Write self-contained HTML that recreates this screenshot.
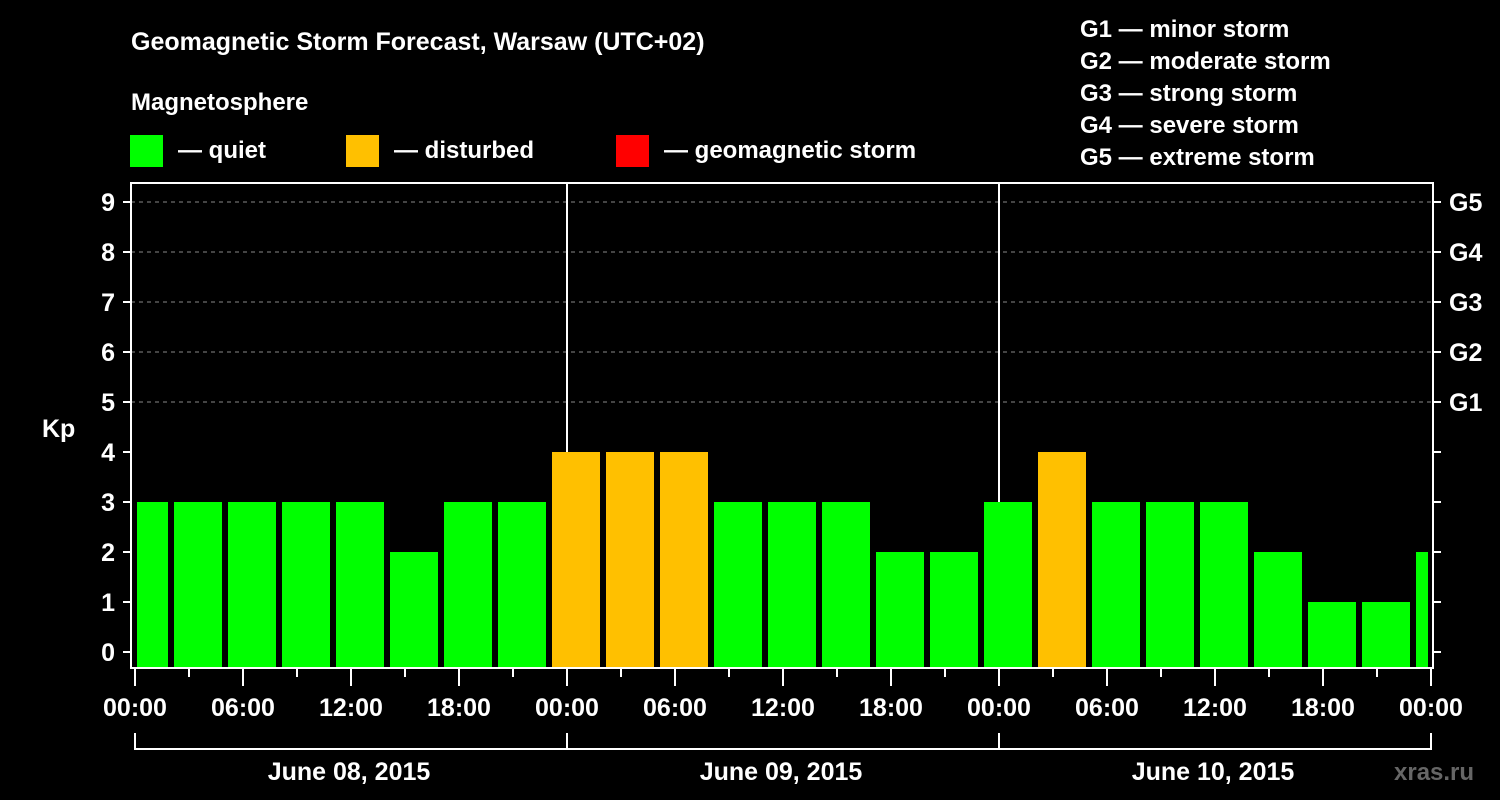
<!DOCTYPE html>
<html><head><meta charset="utf-8"><style>
html,body{margin:0;padding:0;background:#000;}
svg{display:block;font-family:"Liberation Sans",Arial,sans-serif;font-weight:bold;}
</style></head><body>
<svg id="chart" width="1500" height="800" viewBox="0 0 1500 800">
<rect width="1500" height="800" fill="#000"/>
<text x="131" y="50" fill="#fff" font-size="25">Geomagnetic Storm Forecast, Warsaw (UTC+02)</text>
<text x="131" y="110" fill="#fff" font-size="24">Magnetosphere</text>
<g><rect x="130" y="135" width="33" height="32" fill="#00ff00"/><text x="178" y="158" fill="#fff" font-size="24">— quiet</text></g>
<g><rect x="346" y="135" width="33" height="32" fill="#ffc000"/><text x="394" y="158" fill="#fff" font-size="24">— disturbed</text></g>
<g><rect x="616" y="135" width="33" height="32" fill="#ff0000"/><text x="664" y="158" fill="#fff" font-size="24">— geomagnetic storm</text></g>
<g fill="#fff" font-size="24">
<text x="1080" y="37">G1 — minor storm</text>
<text x="1080" y="69">G2 — moderate storm</text>
<text x="1080" y="101">G3 — strong storm</text>
<text x="1080" y="133">G4 — severe storm</text>
<text x="1080" y="165">G5 — extreme storm</text>
</g>
<text x="42" y="437" fill="#fff" font-size="25">Kp</text>
<text x="1394" y="780" fill="#666" font-size="24">xras.ru</text>
<g id="plot"></g>
</svg>
<script>
const kpValues=[3,3,3,3,3,2,3,3,4,4,4,3,3,3,2,2,3,4,3,3,3,2,1,1,2];
const yTicks=[0,1,2,3,4,5,6,7,8,9];
const gLabels=["G1","G2","G3","G4","G5"];
const xTickLabels=["00:00","06:00","12:00","18:00","00:00","06:00","12:00","18:00","00:00","06:00","12:00","18:00","00:00"];
const dayLabels=["June 08, 2015","June 09, 2015","June 10, 2015"];
const startHour=-1; // first bin start relative to 00:00 local

const NS="http://www.w3.org/2000/svg";
const g=document.getElementById('plot');
const X0=135,PXH=18,L=131,R=1433,T=183,B=668;
const x=h=>X0+h*PXH;
const y=v=>652-v*50;
function el(t,a,p){const e=document.createElementNS(NS,t);for(const k in a)e.setAttribute(k,a[k]);(p||g).appendChild(e);return e;}
// grid
yTicks.forEach(v=>{if(v>=5){const l=el('line',{x1:L,x2:R,y1:y(v),y2:y(v),stroke:'#888','stroke-dasharray':'4,4','stroke-width':1});

}});
// day separators
for(let d=1;d<dayLabels.length;d++){const l=el('line',{x1:x(24*d),x2:x(24*d),y1:T,y2:B,stroke:'#fff','stroke-width':2});

}
// bars
const endH=24*dayLabels.length;
kpValues.forEach((v,i)=>{
 let h0=startHour+3*i,h1=h0+3;
 let a=Math.max(x(h0)+3,x(0)+2),b=Math.min(x(h1)-3,x(endH)-3);
 const col=v>=5?'#ff0000':(v>=4?'#ffc000':'#00ff00');
 const r=el('rect',{x:a,y:y(v),width:b-a,height:B-y(v),fill:col});
 
 
});
// frame
const f=el('rect',{x:L,y:T,width:R-L,height:B-T,fill:'none',stroke:'#fff','stroke-width':2});


// y ticks
yTicks.forEach(v=>{el('line',{x1:L-8,x2:L,y1:y(v),y2:y(v),stroke:'#fff','stroke-width':2});
 el('line',{x1:R,x2:R+8,y1:y(v),y2:y(v),stroke:'#fff','stroke-width':2});
 const t=el('text',{x:115,y:y(v)+9,fill:'#fff','font-size':25,'text-anchor':'end'});t.textContent=v;
 
 });
gLabels.forEach((s,i)=>{const t=el('text',{x:1449,y:y(5+i)+9,fill:'#fff','font-size':25});t.textContent=s;
 
 });
// x ticks
for(let h=0;h<=endH;h+=3){const major=h%6===0;el('line',{x1:x(h),x2:x(h),y1:B,y2:B+(major?18:9),stroke:'#fff','stroke-width':2});}
xTickLabels.forEach((s,i)=>{const t=el('text',{x:x(6*i),y:716,fill:'#fff','font-size':25,'text-anchor':'middle'});t.textContent=s;
 
 });
// day brackets
el('line',{x1:x(0),x2:x(endH),y1:749,y2:749,stroke:'#fff','stroke-width':2});
for(let d=0;d<=dayLabels.length;d++)el('line',{x1:x(24*d),x2:x(24*d),y1:733,y2:750,stroke:'#fff','stroke-width':2});
dayLabels.forEach((s,i)=>{const t=el('text',{x:x(24*i+12)-2,y:780,fill:'#fff','font-size':25,'text-anchor':'middle'});t.textContent=s;
 
 });
</script>
</body></html>
